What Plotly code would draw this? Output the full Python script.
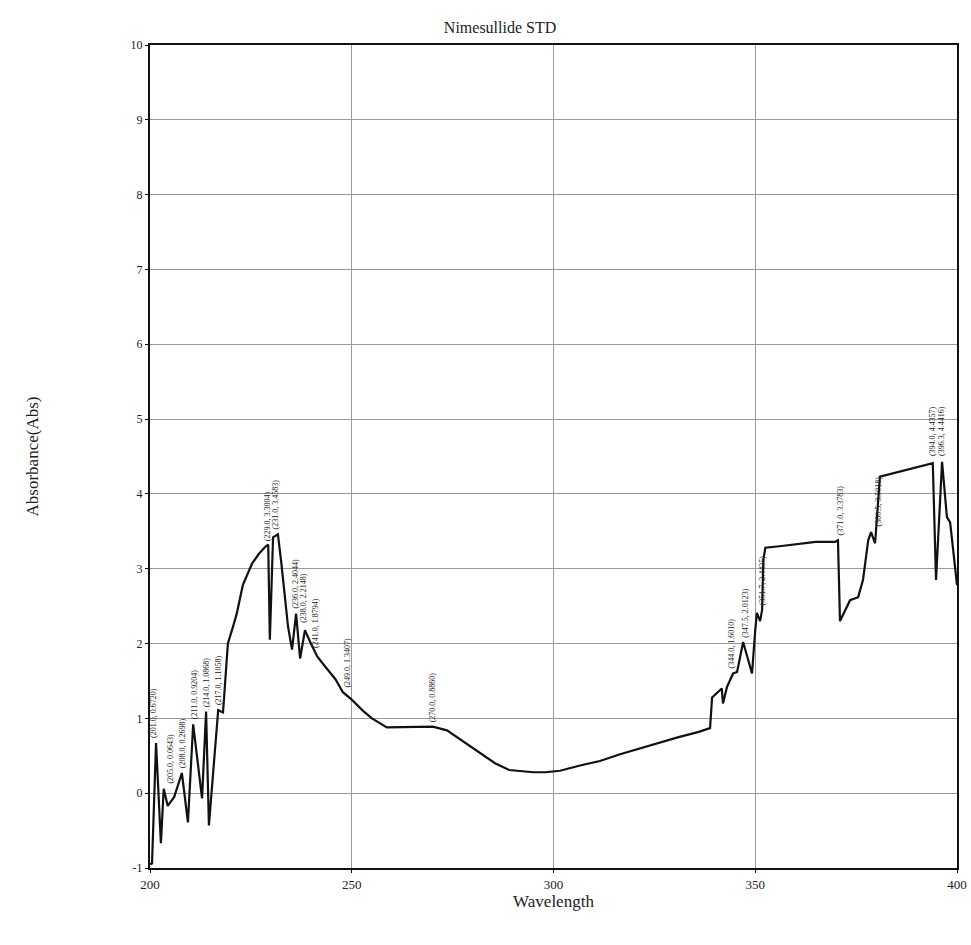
import plotly.graph_objects as go

# Spectrum trace (wavelength nm, absorbance)
wavelength = [200.0, 200.5, 201.5, 202.7, 203.4, 204.4, 206.0, 207.9, 209.4, 210.7, 212.9,
              213.9, 214.6, 216.9, 218.1, 219.3, 220.6, 221.5, 223.0, 225.3, 227.0, 228.7,
              229.3, 229.7, 230.5, 231.7, 232.5, 234.2, 235.2, 236.2, 237.2, 238.4, 239.7,
              241.4, 243.0, 244.6, 246.0, 247.8, 250.0, 252.8, 255.0, 258.7, 262.0, 266.2,
              270.1, 273.6, 276.0, 280.0, 285.5, 289.0, 292.0, 295.0, 298.0, 301.6, 306.6,
              311.5, 316.5, 324.0, 331.0, 336.0, 338.8, 339.3, 341.0, 341.7, 342.0, 343.0,
              344.5, 345.5, 347.0, 349.2, 350.0, 350.4, 351.2, 351.7, 352.0, 352.5, 356.0,
              360.0, 365.0, 369.8, 370.5, 371.0, 373.5, 375.5, 376.7, 378.0, 378.7, 379.7,
              380.4, 380.9, 394.0, 394.8, 396.3, 397.5, 398.3, 400.0]
absorbance = [-0.95, -0.94, 0.67, -0.67, 0.06, -0.17, -0.05, 0.27, -0.39, 0.92, -0.07,
              1.09, -0.43, 1.11, 1.08, 2.00, 2.23, 2.40, 2.78, 3.07, 3.20, 3.30,
              3.32, 2.05, 3.42, 3.46, 3.10, 2.23, 1.92, 2.40, 1.80, 2.18, 2.02,
              1.83, 1.72, 1.62, 1.52, 1.35, 1.25, 1.10, 1.00, 0.88, 0.88, 0.89,
              0.89, 0.84, 0.75, 0.60, 0.40, 0.31, 0.29, 0.28, 0.28, 0.30, 0.37,
              0.43, 0.52, 0.64, 0.75, 0.82, 0.87, 1.28, 1.36, 1.40, 1.20, 1.42,
              1.60, 1.62, 2.02, 1.60, 2.18, 2.41, 2.30, 2.45, 3.12, 3.28, 3.30,
              3.33, 3.36, 3.36, 3.38, 2.30, 2.58, 2.62, 2.85, 3.38, 3.49, 3.34,
              3.92, 4.23, 4.41, 2.85, 4.43, 3.69, 3.62, 2.78]

# Peak labels
label_w = [201.0, 205.0, 208.0, 211.0, 214.0, 217.0, 229.0, 231.0, 236.0, 238.0, 241.0,
           249.0, 270.0, 344.0, 347.5, 351.7, 371.0, 380.5, 394.0, 396.3]
label_a = [0.6720, 0.0643, 0.2698, 0.9204, 1.0868, 1.1058, 3.3004, 3.4583, 2.4044, 2.2148,
           1.8794, 1.3407, 0.8860, 1.6010, 2.0123, 2.4435, 3.3783, 3.5018, 4.4357, 4.4416]

title_text = "Nimesullide STD"
x_title = "Wavelength"
y_title = "Absorbance(Abs)"
x_ticks = [200, 250, 300, 350, 400]
y_ticks = [-1, 0, 1, 2, 3, 4, 5, 6, 7, 8, 9, 10]

serif = "Liberation Serif, Times New Roman, serif"

fig = go.Figure()
fig.add_trace(go.Scatter(x=wavelength, y=absorbance, mode="lines",
                         line=dict(color="#111111", width=2.2), showlegend=False,
                         hoverinfo="skip"))

for w, a in zip(label_w, label_a):
    fig.add_annotation(x=w, y=a, text=f"({w:.1f}, {a:.4f})", textangle=-90,
                       showarrow=False, xanchor="center", yanchor="bottom", yshift=3,
                       font=dict(family=serif, size=8, color="#222"))

fig.update_layout(
    width=971, height=945, autosize=False,
    margin=dict(l=150, r=14, t=45, b=77, autoexpand=False),
    paper_bgcolor="white", plot_bgcolor="white",
    title=dict(text=title_text, x=0.515, xanchor="center", y=0.971, yanchor="middle",
               font=dict(family=serif, size=16, color="#222")),
    font=dict(family=serif, color="#222"),
)
fig.update_xaxes(range=[200, 400], tickvals=x_ticks, ticktext=[str(t) for t in x_ticks],
                 automargin=False,
                 showgrid=True, gridcolor="#9a9a9a", gridwidth=1, zeroline=False,
                 showline=True, linecolor="#111", linewidth=2, mirror=True,
                 ticks="outside", ticklen=3, tickcolor="#111",
                 tickfont=dict(family=serif, size=13, color="#222"),
                 title=dict(text=x_title, font=dict(family=serif, size=17, color="#222"), standoff=4))
fig.update_yaxes(range=[-1, 10], tickvals=y_ticks, ticktext=[str(t) for t in y_ticks],
                 automargin=False,
                 showgrid=True, gridcolor="#9a9a9a", gridwidth=1, zeroline=False,
                 showline=True, linecolor="#111", linewidth=2, mirror=True,
                 ticks="outside", ticklen=3, tickcolor="#111",
                 tickfont=dict(family=serif, size=12, color="#222"),
                 title=dict(text=y_title, font=dict(family=serif, size=17, color="#222"), standoff=88))

fig.write_html("out.html")
